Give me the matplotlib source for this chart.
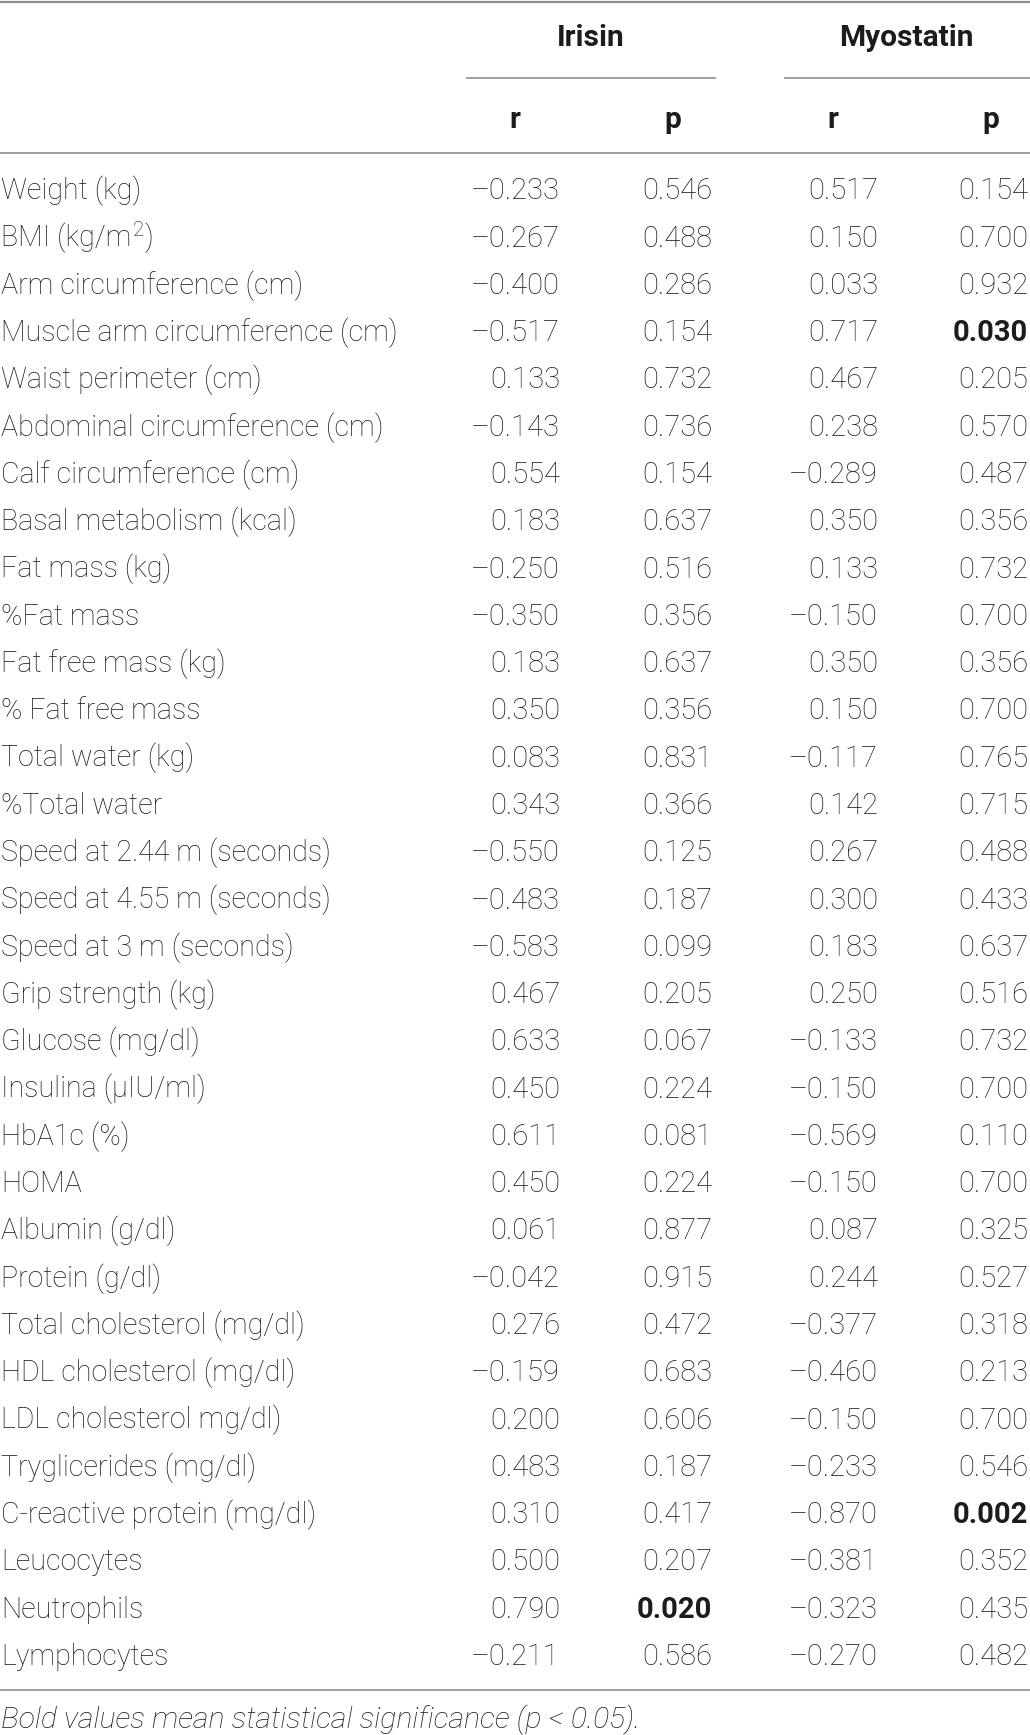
import matplotlib
matplotlib.use("Agg")
import matplotlib.pyplot as plt

# rows of the table
labels = [
    "Weight (kg)", "BMI (kg/m", "Arm circumference (cm)", "Muscle arm circumference (cm)",
    "Waist perimeter (cm)", "Abdominal circumference (cm)", "Calf circumference (cm)",
    "Basal metabolism (kcal)", "Fat mass (kg)", "%Fat mass", "Fat free mass (kg)",
    "% Fat free mass", "Total water (kg)", "%Total water", "Speed at 2.44 m (seconds)",
    "Speed at 4.55 m (seconds)", "Speed at 3 m (seconds)", "Grip strength (kg)",
    "Glucose (mg/dl)", "Insulina (\u03bcIU/ml)", "HbA1c (%)", "HOMA", "Albumin (g/dl)",
    "Protein (g/dl)", "Total cholesterol (mg/dl)", "HDL cholesterol (mg/dl)",
    "LDL cholesterol mg/dl)", "Tryglicerides (mg/dl)", "C-reactive protein (mg/dl)",
    "Leucocytes", "Neutrophils", "Lymphocytes",
]
irisin_r = [-0.233, -0.267, -0.400, -0.517, 0.133, -0.143, 0.554, 0.183, -0.250, -0.350,
            0.183, 0.350, 0.083, 0.343, -0.550, -0.483, -0.583, 0.467, 0.633, 0.450,
            0.611, 0.450, 0.061, -0.042, 0.276, -0.159, 0.200, 0.483, 0.310, 0.500,
            0.790, -0.211]
irisin_p = [0.546, 0.488, 0.286, 0.154, 0.732, 0.736, 0.154, 0.637, 0.516, 0.356,
            0.637, 0.356, 0.831, 0.366, 0.125, 0.187, 0.099, 0.205, 0.067, 0.224,
            0.081, 0.224, 0.877, 0.915, 0.472, 0.683, 0.606, 0.187, 0.417, 0.207,
            0.020, 0.586]
myostatin_r = [0.517, 0.150, 0.033, 0.717, 0.467, 0.238, -0.289, 0.350, 0.133, -0.150,
               0.350, 0.150, -0.117, 0.142, 0.267, 0.300, 0.183, 0.250, -0.133, -0.150,
               -0.569, -0.150, 0.087, 0.244, -0.377, -0.460, -0.150, -0.233, -0.870,
               -0.381, -0.323, -0.270]
myostatin_p = [0.154, 0.700, 0.932, 0.030, 0.205, 0.570, 0.487, 0.356, 0.732, 0.700,
               0.356, 0.700, 0.765, 0.715, 0.488, 0.433, 0.637, 0.516, 0.732, 0.700,
               0.110, 0.700, 0.325, 0.527, 0.318, 0.213, 0.700, 0.546, 0.002, 0.352,
               0.435, 0.482]

groups = ["Irisin", "Myostatin"]
footnote = "Bold values mean statistical significance (p < 0.05)."

W, H = 1030, 1735
txt = "#1c1c1c"
rule = "#8c8c8c"
fs = 21        # numbers
fs_lab = 20.6  # row labels
font = "Roboto"

fig = plt.figure(figsize=(W / 100, H / 100), dpi=100)
ax = fig.add_axes([0, 0, 1, 1])
ax.set_xlim(0, W)
ax.set_ylim(H, 0)
ax.axis("off")


def fmt(v):
    s = "%.3f" % abs(v)
    return ("\u2013" + s) if v < 0 else s


# rules
ax.plot([0, W], [2, 2], color=rule, lw=1.6)
ax.plot([467, 715], [77.7, 77.7], color=rule, lw=1.2)
ax.plot([785, W], [77.7, 77.7], color=rule, lw=1.2)
ax.plot([0, W], [153.3, 153.3], color=rule, lw=1.2)
ax.plot([0, W], [1690, 1690], color=rule, lw=1.2)

# headers
for name, xc in zip(groups, [591, 906]):
    ax.text(xc, 46, name, ha="center", va="baseline", fontsize=21.5, fontweight="bold",
            family=font, color=txt)
for lab, xc in zip(["r", "p", "r", "p"], [515, 673, 833, 991]):
    ax.text(xc, 127.7, lab, ha="center", va="baseline", fontsize=21.5, fontweight="bold",
            family=font, color=txt)

y0, dy = 199.3, 47.28
col_right = [560, 712, 878, 1028]
renderer = fig.canvas.get_renderer()

for i, lab in enumerate(labels):
    y = y0 + i * dy
    t = ax.text(1, y, lab, ha="left", va="baseline", fontsize=fs_lab, fontweight="light",
                family=font, color=txt)
    if i == 1:
        # superscript 2 and closing bracket after "BMI (kg/m"
        x1 = t.get_window_extent(renderer).x1
        t2 = ax.text(x1 + 1, y - 11, "2", ha="left", va="baseline", fontsize=fs_lab * 0.72,
                     fontweight="light", family=font, color=txt)
        x2 = t2.get_window_extent(renderer).x1
        ax.text(x2 + 1, y, ")", ha="left", va="baseline", fontsize=fs_lab,
                fontweight="light", family=font, color=txt)
    vals = [irisin_r[i], irisin_p[i], myostatin_r[i], myostatin_p[i]]
    for j, (v, xr) in enumerate(zip(vals, col_right)):
        bold = (j % 2 == 1) and v < 0.05
        ax.text(xr, y, fmt(v), ha="right", va="baseline", fontsize=fs,
                fontweight="bold" if bold else "light", family=font, color=txt)

ax.text(1, 1728, footnote, ha="left", va="baseline", fontsize=21.8, style="italic",
        fontweight="light", family=font, color=txt)

fig.savefig("out.png", dpi=100)
